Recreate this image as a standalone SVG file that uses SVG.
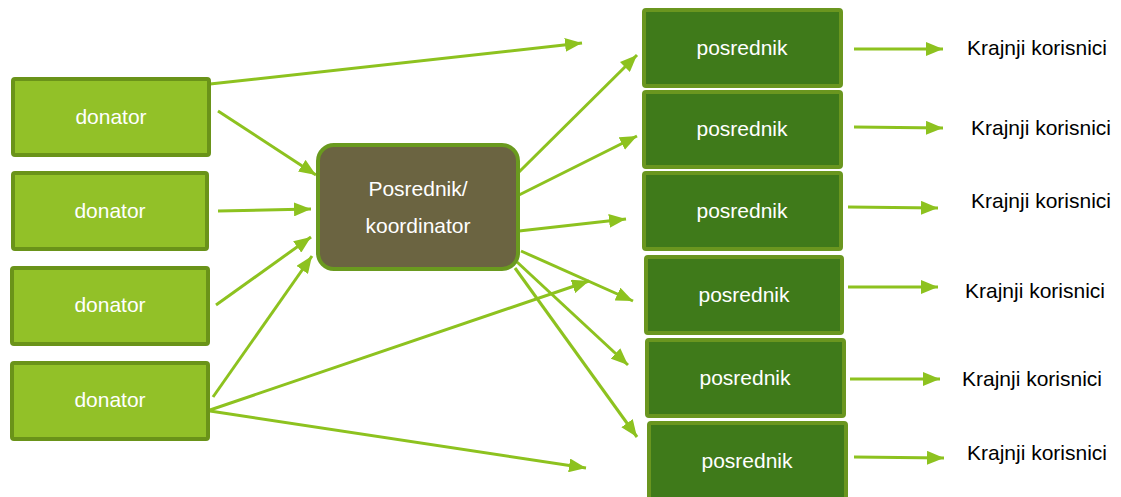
<svg xmlns="http://www.w3.org/2000/svg" width="1121" height="497" viewBox="0 0 1121 497">
<defs>
<style>
.don{fill:#92C128;stroke:#6A9319;stroke-width:4}
.pos{fill:#3F7A1A;stroke:#6A961F;stroke-width:4}
.coord{fill:#6B6441;stroke:#6A9A1F;stroke-width:4}
.wt{font-family:"Liberation Sans",Arial,sans-serif;font-size:21px;fill:#FFFFFF;text-anchor:middle}
.bt{font-family:"Liberation Sans",Arial,sans-serif;font-size:21px;fill:#000000}
.ar{stroke:#8DC21F;stroke-width:3;fill:none;marker-end:url(#ah)}
</style>
<marker id="ah" markerUnits="userSpaceOnUse" markerWidth="18" markerHeight="14" refX="17" refY="7" orient="auto">
<path d="M0,0 L17,7 L0,14 Z" fill="#8DC21F"/>
</marker>
</defs>
<rect width="1121" height="497" fill="#FFFFFF"/>
<g id="connectors">
<line class="ar" x1="210" y1="84" x2="582" y2="43"/>
<line class="ar" x1="218" y1="111" x2="316" y2="175"/>
<line class="ar" x1="218" y1="211" x2="311" y2="209"/>
<line class="ar" x1="216" y1="305" x2="311" y2="237"/>
<line class="ar" x1="213" y1="397" x2="312" y2="256"/>
<line class="ar" x1="210" y1="410" x2="589" y2="281"/>
<line class="ar" x1="210" y1="411" x2="586" y2="468"/>
<line class="ar" x1="519" y1="172" x2="637" y2="55"/>
<line class="ar" x1="519" y1="195" x2="637" y2="136"/>
<line class="ar" x1="519" y1="231" x2="626" y2="219"/>
<line class="ar" x1="521" y1="251" x2="633" y2="301"/>
<line class="ar" x1="517" y1="262" x2="628" y2="365"/>
<line class="ar" x1="515" y1="268" x2="637" y2="437"/>
<line class="ar" x1="854" y1="49" x2="943" y2="49"/>
<line class="ar" x1="854" y1="127" x2="943" y2="128"/>
<line class="ar" x1="848" y1="207" x2="938" y2="208"/>
<line class="ar" x1="848" y1="287" x2="938" y2="287"/>
<line class="ar" x1="850" y1="379" x2="940" y2="379"/>
<line class="ar" x1="854" y1="457" x2="944" y2="458"/>
</g>
<g id="donator1"><rect class="don" x="13" y="79" width="196" height="76" rx="2"/><text class="wt" x="111" y="124">donator</text></g>
<g id="donator2"><rect class="don" x="13" y="173" width="194" height="76" rx="2"/><text class="wt" x="110" y="218">donator</text></g>
<g id="donator3"><rect class="don" x="12" y="268" width="196" height="76" rx="2"/><text class="wt" x="110" y="312">donator</text></g>
<g id="donator4"><rect class="don" x="12" y="363" width="196" height="76" rx="2"/><text class="wt" x="110" y="407">donator</text></g>
<g id="coordinator"><rect class="coord" x="318" y="145" width="200" height="124" rx="16"/><text class="wt" x="418" y="196">Posrednik/</text><text class="wt" x="418" y="233">koordinator</text></g>
<g id="posrednik1"><rect class="pos" x="644" y="10" width="197" height="76" rx="2"/><text class="wt" x="742" y="55">posrednik</text><text class="bt" x="967" y="55">Krajnji korisnici</text></g>
<g id="posrednik2"><rect class="pos" x="644" y="92" width="197" height="75" rx="2"/><text class="wt" x="742" y="136">posrednik</text><text class="bt" x="971" y="135">Krajnji korisnici</text></g>
<g id="posrednik3"><rect class="pos" x="644" y="173" width="197" height="76" rx="2"/><text class="wt" x="742" y="218">posrednik</text><text class="bt" x="971" y="208">Krajnji korisnici</text></g>
<g id="posrednik4"><rect class="pos" x="646" y="257" width="196" height="76" rx="2"/><text class="wt" x="744" y="302">posrednik</text><text class="bt" x="965" y="298">Krajnji korisnici</text></g>
<g id="posrednik5"><rect class="pos" x="647" y="340" width="197" height="76" rx="2"/><text class="wt" x="745" y="385">posrednik</text><text class="bt" x="962" y="386">Krajnji korisnici</text></g>
<g id="posrednik6"><rect class="pos" x="649" y="423" width="197" height="78" rx="2"/><text class="wt" x="747" y="468">posrednik</text><text class="bt" x="967" y="460">Krajnji korisnici</text></g>
</svg>
